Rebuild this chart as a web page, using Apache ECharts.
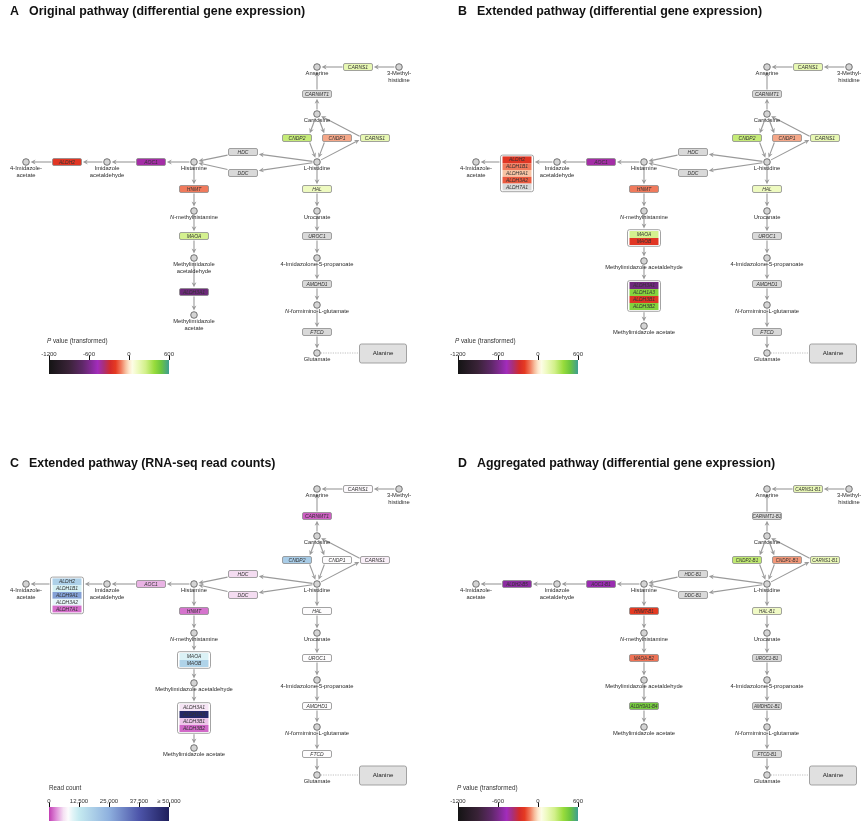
<!DOCTYPE html>
<html><head><meta charset="utf-8">
<script src="https://cdn.jsdelivr.net/npm/echarts@6/dist/echarts.min.js"></script>
<style>html,body{margin:0;padding:0;background:#fff}#c{width:862px;height:821px}</style>
</head><body><div id="c"></div>
<script>
// ================= DATA =================
const panelLetters = ['A', 'B', 'C', 'D'];
const panelTitles = [
  'Original pathway (differential gene expression)',
  'Extended pathway (differential gene expression)',
  'Extended pathway (RNA-seq read counts)',
  'Aggregated pathway (differential gene expression)'
];

// metabolites (pathway nodes)
const metaboliteIds = ['anserine','methylhis','carnosine','lhis','histamine','imidald','imidacetate',
  'nmethyl','mia_ald','mia_acet','urocanate','imidazolone','nformimino','glutamate'];
const metaboliteLabels = ['Anserine','3-Methyl-\nhistidine','Carnosine','L-histidine','Histamine',
  'Imidazole\nacetaldehyde','4-Imidazole-\nacetate','{i|N}-methylhistamine',
  'Methylimidazole acetaldehyde','Methylimidazole acetate','Urocanate',
  '4-Imidazolone-5-propanoate','{i|N}-formimino-L-glutamate','Glutamate'];
const metaboliteLabelsOriginal = metaboliteLabels.map((l, i) =>
  metaboliteIds[i] === 'mia_ald' ? 'Methylimidazole\nacetaldehyde' :
  metaboliteIds[i] === 'mia_acet' ? 'Methylimidazole\nacetate' : l);

// reaction steps: [substrate/enzyme, enzyme/product]
const reactionSteps = [
  ['methylhis','carns1a'],['carns1a','anserine'],
  ['carnosine','carnmt1'],['carnmt1','anserine'],
  ['lhis','carns1b'],['carns1b','carnosine'],
  ['carnosine','cndp2'],['cndp2','lhis'],
  ['carnosine','cndp1'],['cndp1','lhis'],
  ['lhis','hdc'],['hdc','histamine'],
  ['lhis','ddc'],['ddc','histamine'],
  ['histamine','aoc1'],['aoc1','imidald'],
  ['imidald','aldh2'],['aldh2','imidacetate'],
  ['histamine','hnmt'],['hnmt','nmethyl'],
  ['nmethyl','mao'],['mao','mia_ald'],
  ['mia_ald','aldh3'],['aldh3','mia_acet'],
  ['lhis','hal'],['hal','urocanate'],
  ['urocanate','uroc1'],['uroc1','imidazolone'],
  ['imidazolone','amdhd1'],['amdhd1','nformimino'],
  ['nformimino','ftcd'],['ftcd','glutamate']
];
const sideMetabolite = 'Alanine';

// Panel A: original pathway, transformed P values (null = not measured)
const genesA = ['CARNS1','CARNMT1','CNDP2','CNDP1','CARNS1','HDC','DDC','ALDH2','AOC1','HNMT','HAL','MAOA','ALDH3A1','UROC1','AMDHD1','FTCD'];
const stepsA = ['carns1a','carnmt1','cndp2','cndp1','carns1b','hdc','ddc','aldh2','aoc1','hnmt','hal','mao','aldh3','uroc1','amdhd1','ftcd'];
const pValuesA = [160, null, 280, -75, 160, null, null, -220, -440, -120, 130, 240, -650, null, null, null];

// Panel B: extended pathway, transformed P values
const genesB = ['CARNS1','CARNMT1','CNDP2','CNDP1','CARNS1','HDC','DDC',
  'ALDH2','ALDH1B1','ALDH9A1','ALDH3A2','ALDH7A1','AOC1','HNMT','HAL','MAOA','MAOB',
  'ALDH3A1','ALDH1A3','ALDH3B1','ALDH3B2','UROC1','AMDHD1','FTCD'];
const stepsB = ['carns1a','carnmt1','cndp2','cndp1','carns1b','hdc','ddc',
  'aldh2','aldh2','aldh2','aldh2','aldh2','aoc1','hnmt','hal','mao','mao',
  'aldh3','aldh3','aldh3','aldh3','uroc1','amdhd1','ftcd'];
const pValuesB = [160, null, 280, -75, 160, null, null,
  -220, -120, -45, -160, null, -440, -120, 130, 240, -220,
  -640, 420, -230, 430, null, null, null];

// Panel C: extended pathway, RNA-seq read counts
const genesC = genesB;
const stepsC = stepsB;
const readCountsC = [7800, 1200, 19000, 8000, 7000, 5800, 5800,
  18000, 11000, 27000, 9500, 1800, 4300, 2000, 8000, 10500, 17500,
  6300, 48000, 5000, 1600, 8000, 8000, 8000];

// Panel D: aggregated pathway, transformed P values
const genesD = ['CARNS1-B1','CARNMT1-B1','CNDP2-B1','CNDP1-B1','CARNS1-B1','HDC-B1','DDC-B1','ALDH2-B5','AOC1-B1','HNMT-B1','HAL-B1','MAOA-B2','ALDH3A1-B4','UROC1-B1','AMDHD1-B1','FTCD-B1'];
const stepsD = stepsA;
const pValuesD = [150, null, 290, -90, 150, null, null, -540, -500, -200, 120, -130, 460, null, null, null];

// colour-bar axes
const pTicks = [-1200, -600, 0, 600];
const readTicks = [0, 12500, 25000, 37500, 50000];
const readTickLabels = ['0', '12,500', '25,000', '37,500', '\u2265 50,000'];

// ================= LAYOUT / STYLE =================
const FONT = '"Liberation Sans", Arial, Helvetica, sans-serif';
const pStops = [[-1200,'#141414'],[-900,'#3a2338'],[-700,'#5e2868'],[-600,'#7a2a8a'],[-470,'#a22cbc'],
  [-380,'#a8307a'],[-280,'#d42a2a'],[-200,'#e53a22'],[-120,'#f07a5c'],[-50,'#f7c0a0'],[0,'#fde6cc'],
  [50,'#fdfde6'],[130,'#eefac0'],[250,'#d2f08a'],[380,'#98dc3c'],[480,'#6cc63e'],[600,'#3f9e92']];
const readStops = [[0,'#c23db4'],[3000,'#df8fd9'],[6000,'#f5e1f3'],[8000,'#fdfcfd'],[10000,'#e0f4f7'],
  [12500,'#c5eaf0'],[25000,'#8eb0de'],[37500,'#4d55aa'],[50000,'#1f1f5c']];
const NA_FILL = '#d9d9d9';

const layoutCommon = {
  anserine:[317,67], methylhis:[399,67], carnosine:[317,114], lhis:[317,162], histamine:[194,162],
  imidald:[107,162], imidacetate:[26,162], nmethyl:[194,211], urocanate:[317,211], imidazolone:[317,258],
  nformimino:[317,305], glutamate:[317,353],
  carns1a:[358,67], carnmt1:[317,94], cndp2:[297,138], cndp1:[337,138], carns1b:[375,138],
  hdc:[243,152], ddc:[243,173], aldh2:[67,162], aoc1:[151,162], hnmt:[194,189], hal:[317,189],
  uroc1:[317,236], amdhd1:[317,284], ftcd:[317,332], alanine:[383,353.5]
};
const layoutOriginal = {mao:[194,236], mia_ald:[194,258], aldh3:[194,292], mia_acet:[194,315]};
const layoutExtended = {mao:[194,238], mia_ald:[194,261], aldh3:[194,296], mia_acet:[194,326]};
const layoutAggregated = {mao:[194,236], mia_ald:[194,258], aldh3:[194,284], mia_acet:[194,305]};
const edgePorts = {'carnosine>cndp2':[0,11],'cndp2>lhis':[11,0],'carnosine>cndp1':[0,-11],'cndp1>lhis':[-11,0],
  'lhis>carns1b':[0,-12],'carns1b>carnosine':[-12,0]};
const stackFirstOffset = {aldh2:-2.2};
const stackPitch = {aldh2:6.8};

function hex(c){return [1,3,5].map(i=>parseInt(c.slice(i,i+2),16));}
function lerpColor(stops, v){
  if (v <= stops[0][0]) return stops[0][1];
  for (let i=1;i<stops.length;i++){
    if (v <= stops[i][0]){
      const a=hex(stops[i-1][1]), b=hex(stops[i][1]);
      const t=(v-stops[i-1][0])/(stops[i][0]-stops[i-1][0]);
      return 'rgb('+a.map((x,j)=>Math.round(x+(b[j]-x)*t)).join(',')+')';
    }
  }
  return stops[stops.length-1][1];
}

const panels = [
  {grid:{left:0,top:0,width:431,height:410}, lay:layoutOriginal, genes:genesA, steps:stepsA, vals:pValuesA, stops:pStops,
   labels:metaboliteLabelsOriginal, gfont:5, title:[10,5.5], cap:[47,338.5], capText:'{i|P} value (transformed)',
   bar:{left:49,top:360}, scale:'p'},
  {grid:{left:450,top:0,width:412,height:410}, lay:layoutExtended, genes:genesB, steps:stepsB, vals:pValuesB, stops:pStops,
   labels:metaboliteLabels, gfont:5, title:[458,5.5], cap:[455,338.5], capText:'{i|P} value (transformed)',
   bar:{left:458,top:360}, scale:'p'},
  {grid:{left:0,top:422,width:431,height:399}, lay:layoutExtended, genes:genesC, steps:stepsC, vals:readCountsC, stops:readStops,
   labels:metaboliteLabels, gfont:5, title:[10,457.5], cap:[49,785.5], capText:'Read count',
   bar:{left:49,top:807}, scale:'read'},
  {grid:{left:450,top:422,width:412,height:399}, lay:layoutAggregated, genes:genesD, steps:stepsD, vals:pValuesD, stops:pStops,
   labels:metaboliteLabels, gfont:4.5, title:[458,457.5], cap:[457,785.5], capText:'{i|P} value (transformed)',
   bar:{left:458,top:807}, scale:'p'}
];

// ================= BUILD =================
const grids=[], xAxes=[], yAxes=[], series=[], titles=[];
const R = 3.3;

panels.forEach((P, k) => {
  const lay = Object.assign({}, layoutCommon, P.lay);
  const shapes = {};
  metaboliteIds.forEach(id => { shapes[id] = {type:'c', x:lay[id][0], y:lay[id][1], r:R}; });
  const groups = {};
  P.steps.forEach((s,i)=>{ (groups[s]=groups[s]||[]).push(i); });
  const geneItems = [], frames = [];
  Object.keys(groups).forEach(s => {
    const idx = groups[s], n = idx.length, ax = lay[s][0], ay = lay[s][1];
    if (n === 1) {
      geneItems.push({x:ax, y:ay, w:29, h:7, i:idx[0], single:true});
      shapes[s] = {type:'r', x:ax, y:ay, x0:ax-14.5, x1:ax+14.5, y0:ay-3.5, y1:ay+3.5};
    } else {
      const pitch = stackPitch[s] || 7;
      const first = stackFirstOffset[s] !== undefined ? ay + stackFirstOffset[s] : ay - (n-1)*pitch/2;
      idx.forEach((gi, r) => geneItems.push({x:ax, y:first + r*pitch, w:29, h:pitch, i:gi, single:false}));
      const f = {x0:ax-16.5, x1:ax+16.5, y0:first-pitch/2-1.3, y1:first+(n-1)*pitch+pitch/2+1.3};
      frames.push(f);
      shapes[s] = Object.assign({type:'r', x:ax, y:ay}, f);
    }
  });
  shapes.alanine = {type:'r', x:lay.alanine[0], y:lay.alanine[1], x0:lay.alanine[0]-23.5, x1:lay.alanine[0]+23.5, y0:lay.alanine[1]-9.5, y1:lay.alanine[1]+9.5};

  function boundary(sh, ax, ay, tx, ty, gap){
    const dx=tx-ax, dy=ty-ay, L=Math.hypot(dx,dy), ux=dx/L, uy=dy/L;
    if (sh.type==='c') return [ax+ux*(sh.r+gap), ay+uy*(sh.r+gap)];
    let t=Infinity;
    if (ux>1e-9) t=Math.min(t,(sh.x1-ax)/ux); else if (ux<-1e-9) t=Math.min(t,(sh.x0-ax)/ux);
    if (uy>1e-9) t=Math.min(t,(sh.y1-ay)/uy); else if (uy<-1e-9) t=Math.min(t,(sh.y0-ay)/uy);
    t+=gap;
    return [ax+ux*t, ay+uy*t];
  }
  const edgeGeom = reactionSteps.map(([a,b]) => {
    const port = edgePorts[a+'>'+b] || [0,0];
    const A=[shapes[a].x+port[0], shapes[a].y], B=[shapes[b].x+port[1], shapes[b].y];
    const s = boundary(shapes[a], A[0],A[1],B[0],B[1], shapes[a].type==='c'?1.3:1);
    const e = boundary(shapes[b], B[0],B[1],A[0],A[1], 1.3);
    return [s, e];
  });

  grids.push(Object.assign({}, P.grid));
  xAxes.push({type:'value', gridIndex:k, min:0, max:P.grid.width, show:false});
  yAxes.push({type:'value', gridIndex:k, min:0, max:P.grid.height, inverse:true, show:false});

  const base = {type:'custom', xAxisIndex:k, yAxisIndex:k, silent:true, clip:false, encode:{x:0,y:1}};
  series.push(Object.assign({}, base, {
    z:1, data: edgeGeom.map(g=>[g[1][0], g[1][1]]),
    renderItem:(params, api) => {
      const g = edgeGeom[params.dataIndex];
      const p0 = api.coord(g[0]), p1 = api.coord(g[1]);
      const dx=p1[0]-p0[0], dy=p1[1]-p0[1], L=Math.hypot(dx,dy), ux=dx/L, uy=dy/L;
      const al=5, aw=2.4;
      const bx=p1[0]-ux*al, by=p1[1]-uy*al, nx=p1[0]-ux*al*0.7, ny=p1[1]-uy*al*0.7;
      return {type:'group', children:[
        {type:'line', shape:{x1:p0[0],y1:p0[1],x2:nx,y2:ny}, style:{stroke:'#9a9a9a', lineWidth:1.1}},
        {type:'polygon', shape:{points:[[p1[0],p1[1]],[bx-uy*aw,by+ux*aw],[nx,ny],[bx+uy*aw,by-ux*aw]]}, style:{fill:'#9a9a9a'}}
      ]};
    }
  }));
  series.push(Object.assign({}, base, {
    z:2, data:[[lay.alanine[0], lay.alanine[1]]],
    renderItem:(params, api) => {
      const sh = shapes.alanine, g = shapes.glutamate;
      const a = api.coord([sh.x0, sh.y0]), b = api.coord([sh.x1, sh.y1]);
      const c = api.coord([sh.x, sh.y]);
      const l0 = api.coord([g.x+g.r+0.5, g.y]), l1 = api.coord([sh.x0, g.y]);
      return {type:'group', children:[
        {type:'line', shape:{x1:l0[0],y1:l0[1],x2:l1[0],y2:l1[1]}, style:{stroke:'#b0b0b0', lineWidth:0.8, lineDash:[1.2,1.2]}},
        {type:'rect', shape:{x:a[0],y:a[1],width:b[0]-a[0],height:b[1]-a[1],r:2}, style:{fill:'#e0e0e0', stroke:'#999', lineWidth:0.9}},
        {type:'text', style:{text:sideMetabolite, x:c[0], y:c[1], align:'center', verticalAlign:'middle', fontSize:6.2, fontFamily:FONT, fill:'#222'}}
      ]};
    }
  }));
  series.push(Object.assign({}, base, {
    z:3, data: metaboliteIds.map(id=>[lay[id][0], lay[id][1]]),
    renderItem:(params, api) => {
      const id = metaboliteIds[params.dataIndex];
      const c = api.coord([lay[id][0], lay[id][1]]);
      return {type:'group', children:[
        {type:'circle', shape:{cx:c[0], cy:c[1], r:R}, style:{fill:'#d4d4d4', stroke:'#555', lineWidth:0.8}},
        {type:'text', z2:5, style:{text:P.labels[params.dataIndex], x:c[0], y:c[1]+2.4, align:'center', verticalAlign:'top',
          fontSize:5.8, fontFamily:FONT, fill:'#2a2a2a', lineHeight:7.2,
          rich:{i:{fontStyle:'italic', fontSize:5.8, fontFamily:FONT, fill:'#2a2a2a'}}}}
      ]};
    }
  }));
  series.push(Object.assign({}, base, {
    z:4, data: frames.map(f=>[(f.x0+f.x1)/2, (f.y0+f.y1)/2]),
    renderItem:(params, api) => {
      const f = frames[params.dataIndex];
      const a = api.coord([f.x0, f.y0]), b = api.coord([f.x1, f.y1]);
      return {type:'rect', shape:{x:a[0], y:a[1], width:b[0]-a[0], height:b[1]-a[1], r:2}, style:{fill:'#fff', stroke:'#9a9a9a', lineWidth:0.9}};
    }
  }));
  series.push(Object.assign({}, base, {
    z:5, data: geneItems.map(g=>[g.x, g.y]),
    renderItem:(params, api) => {
      const g = geneItems[params.dataIndex];
      const v = P.vals[g.i];
      const a = api.coord([g.x-g.w/2, g.y-g.h/2]), b = api.coord([g.x+g.w/2, g.y+g.h/2]), c = api.coord([g.x, g.y]);
      return {type:'group', children:[
        {type:'rect', shape:{x:a[0], y:a[1], width:b[0]-a[0], height:b[1]-a[1], r:g.single?1.5:0},
          style:{fill: v==null ? NA_FILL : lerpColor(P.stops, v), stroke: g.single ? '#8c8c8c' : null, lineWidth:0.8}},
        {type:'text', style:{text:P.genes[g.i], x:c[0], y:c[1]+0.3, align:'center', verticalAlign:'middle',
          fontSize:P.gfont, fontStyle:'italic', fontFamily:FONT, fill:'#333'}}
      ]};
    }
  }));

  titles.push({text:panelLetters[k], left:P.title[0], top:P.title[1], padding:0,
    textStyle:{fontFamily:FONT, fontWeight:'bold', fontSize:12.4, color:'#111'}});
  titles.push({text:panelTitles[k], left:P.title[0]+19, top:P.title[1], padding:0,
    textStyle:{fontFamily:FONT, fontWeight:'bold', fontSize:12.4, color:'#111'}});
  titles.push({text:P.capText, left:P.cap[0], top:P.cap[1], padding:0,
    textStyle:{fontFamily:FONT, fontWeight:'normal', fontSize:6.3, color:'#333',
      rich:{i:{fontStyle:'italic', fontFamily:FONT, fontSize:6.3, color:'#333'}}}});
});

// colour bars
panels.forEach((P, k) => {
  const gi = 4 + k;
  const isP = P.scale === 'p';
  const mn = isP ? pTicks[0] : readTicks[0], mx = isP ? pTicks[pTicks.length-1] : readTicks[readTicks.length-1];
  grids.push({left:P.bar.left, top:P.bar.top, width:120, height:14});
  xAxes.push({type:'value', gridIndex:gi, min:mn, max:mx, interval: isP ? 600 : 12500, position:'top',
    axisLine:{show:false, onZero:false}, splitLine:{show:false},
    axisTick:{show:true, inside:false, length:4.5, lineStyle:{color:'#111', width:1}},
    axisLabel:{show:true, margin:3, fontSize:6, fontFamily:FONT, color:'#333',
      formatter: v => isP ? String(v) : readTickLabels[readTicks.indexOf(v)]}});
  yAxes.push({type:'value', gridIndex:gi, min:0, max:1, show:false});
  series.push({type:'custom', xAxisIndex:gi, yAxisIndex:gi, silent:true, z:1, data:[[mn,0]], encode:{x:0,y:1},
    renderItem:(params, api) => {
      const a = api.coord([mn, 1]), b = api.coord([mx, 0]);
      return {type:'rect', shape:{x:a[0], y:a[1], width:b[0]-a[0], height:b[1]-a[1]},
        style:{fill:{type:'linear', x:0, y:0, x2:1, y2:0,
          colorStops: P.stops.map(s=>({offset:(s[0]-mn)/(mx-mn), color:s[1]}))}}};
    }});
});

const chart = echarts.init(document.getElementById('c'), null, {renderer:'canvas'});
chart.setOption({animation:false, backgroundColor:'#fff', title:titles, grid:grids, xAxis:xAxes, yAxis:yAxes, series:series});
</script></body></html>
